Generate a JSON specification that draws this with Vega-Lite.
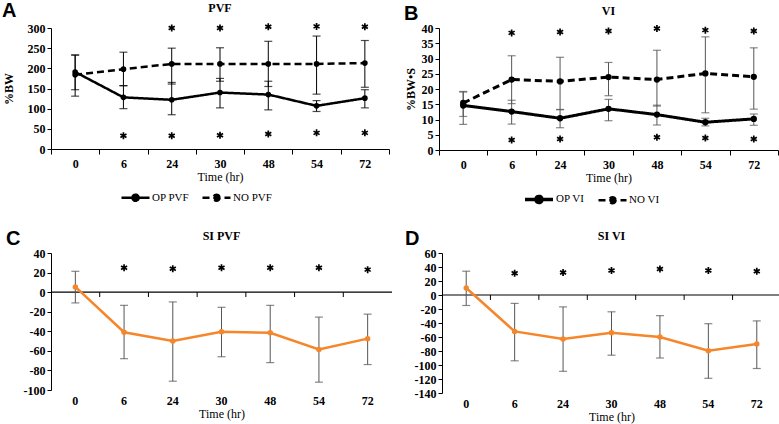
{
  "$schema": "https://vega.github.io/schema/vega-lite/v6.json",
  "padding": {"left": 2, "top": 1, "right": 1, "bottom": 2},
  "background": "white",
  "config": {
    "view": {"stroke": null},
    "font": "Liberation Serif",
    "axis": {"labelFont": "Liberation Serif", "labelFontSize": 12, "labelFontWeight": "bold", "labelColor": "black", "titleFont": "Liberation Serif", "titleFontSize": 12, "titleFontWeight": "bold", "titleColor": "black", "domainColor": "black", "tickColor": "black", "grid": false, "tickSize": 4, "labelAngle": 0},
    "title": {"font": "Liberation Serif", "fontSize": 12, "fontWeight": "bold", "color": "black", "offset": 4},
    "legend": {"labelFont": "Liberation Serif", "labelFontSize": 11, "labelColor": "black", "layout": {"bottom": {"anchor": "middle"}}}
  },
  "datasets": {
    "pvf": [
      {"t": "0", "s": "OP PVF", "m": 191, "lo": 147, "hi": 233},
      {"t": "6", "s": "OP PVF", "m": 128, "lo": 100, "hi": 157},
      {"t": "24", "s": "OP PVF", "m": 122, "lo": 85, "hi": 165},
      {"t": "30", "s": "OP PVF", "m": 140, "lo": 102, "hi": 175},
      {"t": "48", "s": "OP PVF", "m": 135, "lo": 97, "hi": 168},
      {"t": "54", "s": "OP PVF", "m": 107, "lo": 93, "hi": 120},
      {"t": "72", "s": "OP PVF", "m": 126, "lo": 102, "hi": 147},
      {"t": "0", "s": "NO PVF", "m": 184, "lo": 131, "hi": 233},
      {"t": "6", "s": "NO PVF", "m": 198, "lo": 157, "hi": 240},
      {"t": "24", "s": "NO PVF", "m": 211, "lo": 161, "hi": 250},
      {"t": "30", "s": "NO PVF", "m": 211, "lo": 168, "hi": 251},
      {"t": "48", "s": "NO PVF", "m": 211, "lo": 155, "hi": 267},
      {"t": "54", "s": "NO PVF", "m": 211, "lo": 136, "hi": 280},
      {"t": "72", "s": "NO PVF", "m": 213, "lo": 153, "hi": 269}
    ],
    "astA": [
      {"t": "24", "v": 300}, {"t": "30", "v": 300}, {"t": "48", "v": 303}, {"t": "54", "v": 304}, {"t": "72", "v": 303},
      {"t": "6", "v": 33}, {"t": "24", "v": 33}, {"t": "30", "v": 34}, {"t": "48", "v": 37}, {"t": "54", "v": 40}, {"t": "72", "v": 40}
    ],
    "vi": [
      {"t": "0", "s": "OP VI", "m": 14.6, "lo": 8.4, "hi": 19},
      {"t": "6", "s": "OP VI", "m": 12.6, "lo": 8.5, "hi": 16.3},
      {"t": "24", "s": "OP VI", "m": 10.4, "lo": 7.3, "hi": 13.3},
      {"t": "30", "s": "OP VI", "m": 13.5, "lo": 9.6, "hi": 16.6},
      {"t": "48", "s": "OP VI", "m": 11.6, "lo": 8.2, "hi": 14.7},
      {"t": "54", "s": "OP VI", "m": 9.1, "lo": 7.9, "hi": 10.4},
      {"t": "72", "s": "OP VI", "m": 10.2, "lo": 8.1, "hi": 11.8},
      {"t": "0", "s": "NO VI", "m": 15.4, "lo": 11, "hi": 19.2},
      {"t": "6", "s": "NO VI", "m": 23.1, "lo": 15.2, "hi": 30.9},
      {"t": "24", "s": "NO VI", "m": 22.5, "lo": 13.2, "hi": 30.4},
      {"t": "30", "s": "NO VI", "m": 23.9, "lo": 17.8, "hi": 28.7},
      {"t": "48", "s": "NO VI", "m": 23.1, "lo": 14.4, "hi": 32.7},
      {"t": "54", "s": "NO VI", "m": 25.1, "lo": 12.2, "hi": 37.1},
      {"t": "72", "s": "NO VI", "m": 24, "lo": 13.4, "hi": 33.5}
    ],
    "astB": [
      {"t": "6", "v": 38.4}, {"t": "24", "v": 38.7}, {"t": "30", "v": 39}, {"t": "48", "v": 39.8}, {"t": "54", "v": 39.3}, {"t": "72", "v": 39},
      {"t": "6", "v": 3.3}, {"t": "24", "v": 3.6}, {"t": "48", "v": 4.2}, {"t": "54", "v": 3.9}, {"t": "72", "v": 3.6}
    ],
    "sipvf": [
      {"t": "0", "m": 5.3, "lo": -11, "hi": 21.3},
      {"t": "6", "m": -41, "lo": -68, "hi": -13.5},
      {"t": "24", "m": -50, "lo": -91, "hi": -10},
      {"t": "30", "m": -40.5, "lo": -66, "hi": -15.5},
      {"t": "48", "m": -41.5, "lo": -72, "hi": -13.5},
      {"t": "54", "m": -58.5, "lo": -92, "hi": -25.5},
      {"t": "72", "m": -47.5, "lo": -74, "hi": -22.5}
    ],
    "astC": [
      {"t": "6", "v": 25}, {"t": "24", "v": 24}, {"t": "30", "v": 25}, {"t": "48", "v": 25}, {"t": "54", "v": 25}, {"t": "72", "v": 23}
    ],
    "sivi": [
      {"t": "0", "m": 10, "lo": -15, "hi": 34},
      {"t": "6", "m": -52, "lo": -94, "hi": -12},
      {"t": "24", "m": -63, "lo": -109, "hi": -17},
      {"t": "30", "m": -54, "lo": -86, "hi": -24},
      {"t": "48", "m": -60, "lo": -90, "hi": -29.5},
      {"t": "54", "m": -79.5, "lo": -119, "hi": -41},
      {"t": "72", "m": -70, "lo": -105, "hi": -37}
    ],
    "astD": [
      {"t": "6", "v": 31}, {"t": "24", "v": 32}, {"t": "30", "v": 35}, {"t": "48", "v": 37}, {"t": "54", "v": 35}, {"t": "72", "v": 34}
    ],
    "cuts": [{"t": "6"}, {"t": "24"}, {"t": "30"}, {"t": "48"}, {"t": "54"}, {"t": "72"}],
    "one": [{"z": 0}]
  },
  "spacing": 19,
  "resolve": {"scale": {"strokeDash": "independent", "strokeWidth": "independent"}},
  "vconcat": [
    {
      "spacing": 14,
      "resolve": {"scale": {"strokeDash": "independent", "strokeWidth": "independent"}},
      "hconcat": [
        {
          "title": {"text": "A", "anchor": "start", "frame": "bounds", "font": "Liberation Sans", "fontSize": 20, "fontWeight": "bold", "offset": -19},
          "vconcat": [
            {
              "width": 338, "height": 121,
              "title": {"text": "PVF"},
              "encoding": {
                "x": {"field": "t", "type": "ordinal", "sort": ["0", "6", "24", "30", "48", "54", "72"], "scale": {"paddingInner": 0, "paddingOuter": 0}, "title": "Time (hr)", "axis": {"tickBand": "extent", "tickSize": 5, "labelPadding": 4, "titlePadding": 2, "titleFontWeight": "normal"}}
              },
              "layer": [
                {"data": {"name": "pvf"}, "mark": {"type": "rule", "color": "black", "strokeWidth": 1},
                 "encoding": {"y": {"field": "lo", "type": "quantitative", "scale": {"domain": [0, 300], "nice": false}, "axis": {"values": [0, 50, 100, 150, 200, 250, 300], "titlePadding": 12}, "title": "%BW"}, "y2": {"field": "hi"}}},
                {"data": {"name": "pvf"}, "mark": {"type": "tick", "color": "black", "size": 8, "thickness": 1.2},
                 "encoding": {"y": {"field": "hi", "type": "quantitative", "scale": {"domain": [0, 300], "nice": false}, "axis": {"values": [0, 50, 100, 150, 200, 250, 300], "titlePadding": 12}, "title": "%BW"}}},
                {"data": {"name": "pvf"}, "mark": {"type": "tick", "color": "black", "size": 8, "thickness": 1.2},
                 "encoding": {"y": {"field": "lo", "type": "quantitative", "scale": {"domain": [0, 300], "nice": false}, "axis": {"values": [0, 50, 100, 150, 200, 250, 300], "titlePadding": 12}, "title": "%BW"}}},
                {"data": {"name": "pvf"}, "mark": {"type": "line", "color": "black", "strokeWidth": 2.5},
                 "encoding": {"y": {"field": "m", "type": "quantitative", "scale": {"domain": [0, 300], "nice": false}, "axis": {"values": [0, 50, 100, 150, 200, 250, 300], "titlePadding": 12}, "title": "%BW"},
                   "strokeDash": {"field": "s", "type": "nominal", "scale": {"domain": ["OP PVF", "NO PVF"], "range": [[1, 0], [7, 4]]},
                     "legend": {"title": null, "orient": "bottom", "direction": "horizontal", "symbolType": "M-1,0H1M0.22,0A0.22,0.22 0 1 1 -0.22,0A0.22,0.22 0 1 1 0.22,0", "symbolSize": 784, "symbolStrokeWidth": 2.5, "symbolStrokeColor": "black", "symbolFillColor": "black", "labelOffset": 1, "columnPadding": 8, "offset": 0}}}},
                {"data": {"name": "pvf"}, "mark": {"type": "point", "filled": true, "color": "black", "size": 32, "opacity": 1},
                 "encoding": {"y": {"field": "m", "type": "quantitative", "scale": {"domain": [0, 300], "nice": false}, "axis": {"values": [0, 50, 100, 150, 200, 250, 300], "titlePadding": 12}, "title": "%BW"}, "detail": {"field": "s"}}},
                {"data": {"name": "astA"}, "mark": {"type": "point", "shape": "M0,-1L0,1M-0.87,-0.5L0.87,0.5M-0.87,0.5L0.87,-0.5", "filled": false, "color": "black", "strokeWidth": 1.7, "size": 49, "opacity": 1},
                 "encoding": {"y": {"field": "v", "type": "quantitative", "scale": {"domain": [0, 300], "nice": false}, "axis": {"values": [0, 50, 100, 150, 200, 250, 300], "titlePadding": 12}, "title": "%BW"}}}
              ]
            }
          ]
        },
        {
          "title": {"text": "B", "anchor": "start", "frame": "bounds", "font": "Liberation Sans", "fontSize": 20, "fontWeight": "bold", "offset": -19},
          "vconcat": [
            {
              "width": 339, "height": 122,
              "title": {"text": "VI"},
              "encoding": {
                "x": {"field": "t", "type": "ordinal", "sort": ["0", "6", "24", "30", "48", "54", "72"], "scale": {"paddingInner": 0, "paddingOuter": 0}, "title": "Time (hr)", "axis": {"tickBand": "extent", "tickSize": 5, "labelPadding": 4, "titlePadding": 2, "titleFontWeight": "normal"}}
              },
              "layer": [
                {"data": {"name": "vi"}, "mark": {"type": "rule", "color": "#555555", "strokeWidth": 1},
                 "encoding": {"y": {"field": "lo", "type": "quantitative", "scale": {"domain": [0, 40], "nice": false}, "axis": {"values": [0, 5, 10, 15, 20, 25, 30, 35, 40]}, "title": "%BW•S"}, "y2": {"field": "hi"}}},
                {"data": {"name": "vi"}, "mark": {"type": "tick", "color": "#555555", "size": 8, "thickness": 1.2},
                 "encoding": {"y": {"field": "hi", "type": "quantitative", "scale": {"domain": [0, 40], "nice": false}, "axis": {"values": [0, 5, 10, 15, 20, 25, 30, 35, 40]}, "title": "%BW•S"}}},
                {"data": {"name": "vi"}, "mark": {"type": "tick", "color": "#555555", "size": 8, "thickness": 1.2},
                 "encoding": {"y": {"field": "lo", "type": "quantitative", "scale": {"domain": [0, 40], "nice": false}, "axis": {"values": [0, 5, 10, 15, 20, 25, 30, 35, 40]}, "title": "%BW•S"}}},
                {"data": {"name": "vi"}, "mark": {"type": "line", "color": "black", "strokeWidth": 3},
                 "encoding": {"y": {"field": "m", "type": "quantitative", "scale": {"domain": [0, 40], "nice": false}, "axis": {"values": [0, 5, 10, 15, 20, 25, 30, 35, 40]}, "title": "%BW•S"},
                   "strokeWidth": {"field": "s", "type": "nominal", "scale": {"domain": ["OP VI", "NO VI"], "range": [3.5, 2.5]}, "legend": null},
                   "strokeDash": {"field": "s", "type": "nominal", "scale": {"domain": ["OP VI", "NO VI"], "range": [[1, 0], [7, 4]]},
                     "legend": {"title": null, "orient": "bottom", "direction": "horizontal", "symbolType": "M-1,0H1M0.22,0A0.22,0.22 0 1 1 -0.22,0A0.22,0.22 0 1 1 0.22,0", "symbolSize": 784, "symbolStrokeWidth": 2.5, "symbolStrokeColor": "black", "symbolFillColor": "black", "labelOffset": 1, "columnPadding": 8, "offset": 0}}}},
                {"data": {"name": "vi"}, "mark": {"type": "point", "filled": true, "color": "black", "size": 40, "opacity": 1},
                 "encoding": {"y": {"field": "m", "type": "quantitative", "scale": {"domain": [0, 40], "nice": false}, "axis": {"values": [0, 5, 10, 15, 20, 25, 30, 35, 40]}, "title": "%BW•S"}, "detail": {"field": "s"}}},
                {"data": {"name": "astB"}, "mark": {"type": "point", "shape": "M0,-1L0,1M-0.87,-0.5L0.87,0.5M-0.87,0.5L0.87,-0.5", "filled": false, "color": "black", "strokeWidth": 1.7, "size": 49, "opacity": 1},
                 "encoding": {"y": {"field": "v", "type": "quantitative", "scale": {"domain": [0, 40], "nice": false}, "axis": {"values": [0, 5, 10, 15, 20, 25, 30, 35, 40]}, "title": "%BW•S"}}}
              ]
            }
          ]
        }
      ]
    },
    {
      "spacing": 12,
      "hconcat": [
        {
          "title": {"text": "C", "anchor": "start", "frame": "bounds", "font": "Liberation Sans", "fontSize": 20, "fontWeight": "bold", "offset": -19},
          "vconcat": [
            {
              "width": 341, "height": 137,
              "title": {"text": "SI PVF"},
              "encoding": {
                "x": {"field": "t", "type": "ordinal", "sort": ["0", "6", "24", "30", "48", "54", "72"], "scale": {"paddingInner": 0, "paddingOuter": 0}, "title": "Time (hr)", "axis": {"domain": false, "ticks": false, "labelPadding": 5, "titlePadding": 2, "titleFontWeight": "normal"}}
              },
              "layer": [
                {"data": {"name": "one"}, "mark": {"type": "rule", "color": "black", "strokeWidth": 1.2},
                 "encoding": {"x": null, "y": {"field": "z", "type": "quantitative", "scale": {"domain": [-100, 40], "nice": false}, "axis": {"values": [-100, -80, -60, -40, -20, 0, 20, 40], "labelExpr": "toString(datum.value)", "minExtent": 45}, "title": null}}},
                {"data": {"name": "cuts"}, "mark": {"type": "rule", "color": "black", "strokeWidth": 1},
                 "encoding": {"x": {"field": "t", "type": "ordinal", "sort": ["0", "6", "24", "30", "48", "54", "72"], "bandPosition": 0},
                   "y": {"datum": 0, "type": "quantitative", "scale": {"domain": [-100, 40], "nice": false}, "axis": {"values": [-100, -80, -60, -40, -20, 0, 20, 40], "labelExpr": "toString(datum.value)", "minExtent": 45}, "title": null},
                   "y2": {"datum": -5}}},
                {"data": {"name": "sipvf"}, "mark": {"type": "rule", "color": "#555555", "strokeWidth": 1},
                 "encoding": {
                   "y": {"field": "lo", "type": "quantitative", "scale": {"domain": [-100, 40], "nice": false}, "axis": {"values": [-100, -80, -60, -40, -20, 0, 20, 40], "labelExpr": "toString(datum.value)", "minExtent": 45}, "title": null}, "y2": {"field": "hi"}}},
                {"data": {"name": "sipvf"}, "mark": {"type": "tick", "color": "#555555", "size": 8, "thickness": 1.2},
                 "encoding": {
                   "y": {"field": "hi", "type": "quantitative", "scale": {"domain": [-100, 40], "nice": false}, "axis": {"values": [-100, -80, -60, -40, -20, 0, 20, 40], "labelExpr": "toString(datum.value)", "minExtent": 45}, "title": null}}},
                {"data": {"name": "sipvf"}, "mark": {"type": "tick", "color": "#555555", "size": 8, "thickness": 1.2},
                 "encoding": {
                   "y": {"field": "lo", "type": "quantitative", "scale": {"domain": [-100, 40], "nice": false}, "axis": {"values": [-100, -80, -60, -40, -20, 0, 20, 40], "labelExpr": "toString(datum.value)", "minExtent": 45}, "title": null}}},
                {"data": {"name": "sipvf"}, "mark": {"type": "line", "color": "#F5862A", "strokeWidth": 2.5, "point": {"filled": true, "color": "#F5862A", "size": 30}},
                 "encoding": {
                   "y": {"field": "m", "type": "quantitative", "scale": {"domain": [-100, 40], "nice": false}, "axis": {"values": [-100, -80, -60, -40, -20, 0, 20, 40], "labelExpr": "toString(datum.value)", "minExtent": 45}, "title": null}}},
                {"data": {"name": "astC"}, "mark": {"type": "point", "shape": "M0,-1L0,1M-0.87,-0.5L0.87,0.5M-0.87,0.5L0.87,-0.5", "filled": false, "color": "black", "strokeWidth": 1.7, "size": 49, "opacity": 1},
                 "encoding": {
                   "y": {"field": "v", "type": "quantitative", "scale": {"domain": [-100, 40], "nice": false}, "axis": {"values": [-100, -80, -60, -40, -20, 0, 20, 40], "labelExpr": "toString(datum.value)", "minExtent": 45}, "title": null}}}
              ]
            }
          ]
        },
        {
          "title": {"text": "D", "anchor": "start", "frame": "bounds", "font": "Liberation Sans", "fontSize": 20, "fontWeight": "bold", "offset": -19},
          "vconcat": [
            {
              "width": 339, "height": 140,
              "title": {"text": "SI VI"},
              "encoding": {
                "x": {"field": "t", "type": "ordinal", "sort": ["0", "6", "24", "30", "48", "54", "72"], "scale": {"paddingInner": 0, "paddingOuter": 0}, "title": "Time (hr)", "axis": {"domain": false, "ticks": false, "labelPadding": 5, "titlePadding": 2, "titleFontWeight": "normal"}}
              },
              "layer": [
                {"data": {"name": "one"}, "mark": {"type": "rule", "color": "black", "strokeWidth": 1.2},
                 "encoding": {"x": null, "y": {"field": "z", "type": "quantitative", "scale": {"domain": [-140, 60], "nice": false}, "axis": {"values": [-140, -120, -100, -80, -60, -40, -20, 0, 20, 40, 60], "labelExpr": "toString(datum.value)", "minExtent": 37}, "title": null}}},
                {"data": {"name": "cuts"}, "mark": {"type": "rule", "color": "black", "strokeWidth": 1},
                 "encoding": {"x": {"field": "t", "type": "ordinal", "sort": ["0", "6", "24", "30", "48", "54", "72"], "bandPosition": 0},
                   "y": {"datum": 0, "type": "quantitative", "scale": {"domain": [-140, 60], "nice": false}, "axis": {"values": [-140, -120, -100, -80, -60, -40, -20, 0, 20, 40, 60], "labelExpr": "toString(datum.value)", "minExtent": 37}, "title": null},
                   "y2": {"datum": -7}}},
                {"data": {"name": "sivi"}, "mark": {"type": "rule", "color": "#555555", "strokeWidth": 1},
                 "encoding": {
                   "y": {"field": "lo", "type": "quantitative", "scale": {"domain": [-140, 60], "nice": false}, "axis": {"values": [-140, -120, -100, -80, -60, -40, -20, 0, 20, 40, 60], "labelExpr": "toString(datum.value)", "minExtent": 37}, "title": null}, "y2": {"field": "hi"}}},
                {"data": {"name": "sivi"}, "mark": {"type": "tick", "color": "#555555", "size": 8, "thickness": 1.2},
                 "encoding": {
                   "y": {"field": "hi", "type": "quantitative", "scale": {"domain": [-140, 60], "nice": false}, "axis": {"values": [-140, -120, -100, -80, -60, -40, -20, 0, 20, 40, 60], "labelExpr": "toString(datum.value)", "minExtent": 37}, "title": null}}},
                {"data": {"name": "sivi"}, "mark": {"type": "tick", "color": "#555555", "size": 8, "thickness": 1.2},
                 "encoding": {
                   "y": {"field": "lo", "type": "quantitative", "scale": {"domain": [-140, 60], "nice": false}, "axis": {"values": [-140, -120, -100, -80, -60, -40, -20, 0, 20, 40, 60], "labelExpr": "toString(datum.value)", "minExtent": 37}, "title": null}}},
                {"data": {"name": "sivi"}, "mark": {"type": "line", "color": "#F5862A", "strokeWidth": 2.5, "point": {"filled": true, "color": "#F5862A", "size": 30}},
                 "encoding": {
                   "y": {"field": "m", "type": "quantitative", "scale": {"domain": [-140, 60], "nice": false}, "axis": {"values": [-140, -120, -100, -80, -60, -40, -20, 0, 20, 40, 60], "labelExpr": "toString(datum.value)", "minExtent": 37}, "title": null}}},
                {"data": {"name": "astD"}, "mark": {"type": "point", "shape": "M0,-1L0,1M-0.87,-0.5L0.87,0.5M-0.87,0.5L0.87,-0.5", "filled": false, "color": "black", "strokeWidth": 1.7, "size": 49, "opacity": 1},
                 "encoding": {
                   "y": {"field": "v", "type": "quantitative", "scale": {"domain": [-140, 60], "nice": false}, "axis": {"values": [-140, -120, -100, -80, -60, -40, -20, 0, 20, 40, 60], "labelExpr": "toString(datum.value)", "minExtent": 37}, "title": null}}}
              ]
            }
          ]
        }
      ]
    }
  ]
}
